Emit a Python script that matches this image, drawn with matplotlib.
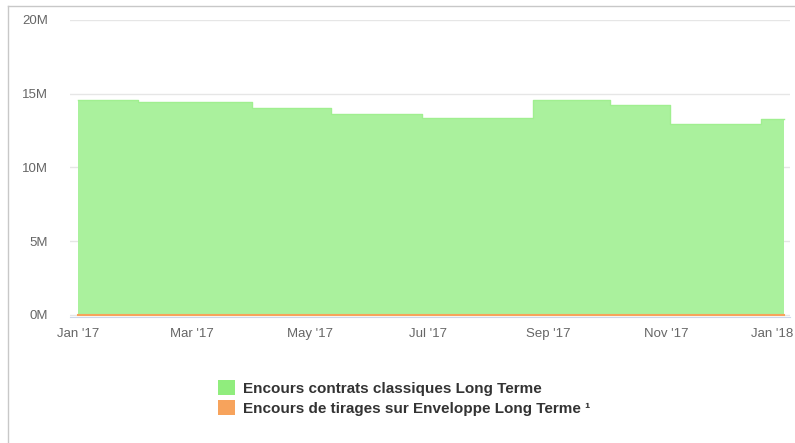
import matplotlib
matplotlib.use("Agg")
import matplotlib.pyplot as plt
import matplotlib.transforms as mtransforms
from matplotlib.patches import Patch
from matplotlib.lines import Line2D
import pandas as pd

# data (values in millions)
dates = ["2017-01-01", "2017-02-01", "2017-04-01", "2017-05-12", "2017-06-28",
         "2017-08-24", "2017-10-03", "2017-11-03", "2017-12-20", "2018-01-01"]
classiques = [14.6, 14.45, 14.0, 13.65, 13.35, 14.55, 14.25, 12.95, 13.3, 13.3]
enveloppe = [0, 0, 0, 0, 0, 0, 0, 0, 0, 0]
labels = ["Encours contrats classiques Long Terme",
          "Encours de tirages sur Enveloppe Long Terme \u00b9"]
yticks = [0, 5, 10, 15, 20]
xtick_dates = ["2017-01-01", "2017-03-01", "2017-05-01", "2017-07-01",
               "2017-09-01", "2017-11-01", "2018-01-01"]
xtick_labels = ["Jan '17", "Mar '17", "May '17", "Jul '17", "Sep '17", "Nov '17", "Jan '18"]

green_fill = "#aaf19d"
green = "#90ed7d"
orange = "#f7a35c"

plt.rcParams["font.family"] = ["Liberation Sans", "DejaVu Sans"]

x = pd.to_datetime(dates)

fig = plt.figure(figsize=(7.95, 4.43), dpi=100)
ax = fig.add_axes([70/795, 1 - 317/443, 720/795, 297/443])

ax.fill_between(x, classiques, 0, step="post", color=green_fill, lw=0)
ax.step(x, classiques, where="post", color="#a0ef90", lw=1)
ax.step(x, enveloppe, where="post", color=orange, lw=1.5)

ax.set_ylim(-0.15, 20)
ax.set_xlim(pd.Timestamp("2016-12-28"), pd.Timestamp("2018-01-04"))
ax.set_yticks(yticks)
ax.set_yticklabels(["%dM" % v for v in yticks])
ax.yaxis.grid(True, color="#e6e6e6", lw=1)
ax.set_axisbelow(True)

ax.set_xticks(pd.to_datetime(xtick_dates))
ax.set_xticklabels(xtick_labels)

for s in ["top", "right", "left"]:
    ax.spines[s].set_visible(False)
ax.spines["bottom"].set_color("#ccd6eb")
ax.tick_params(axis="both", length=0, colors="#666666", labelsize=9.5)
ax.tick_params(axis="x", pad=8)
ax.tick_params(axis="y", pad=16)

# last label pushed against the right edge, like the original
last = ax.get_xticklabels()[-1]
last.set_horizontalalignment("right")
last.set_transform(last.get_transform() +
                   mtransforms.ScaledTranslation(9/100, 0, fig.dpi_scale_trans))

handles = [Patch(facecolor=green, edgecolor="none"),
           Patch(facecolor=orange, edgecolor="none")]
fig.legend(handles, labels, loc="upper left", bbox_to_anchor=(204/795, 1 - 366/443),
           frameon=False, handlelength=1.15, handleheight=1.15, handletextpad=0.5,
           labelspacing=0.3, labelcolor="#333333",
           prop={"weight": "bold", "size": 11})

# screenshot frame
fig.add_artist(Line2D([8/795, 8/795], [0, 1 - 6/443], color="#c8c8c8", lw=1))
fig.add_artist(Line2D([8/795, 1], [1 - 6/443, 1 - 6/443], color="#c8c8c8", lw=1))

fig.savefig("out.png", dpi=100)
